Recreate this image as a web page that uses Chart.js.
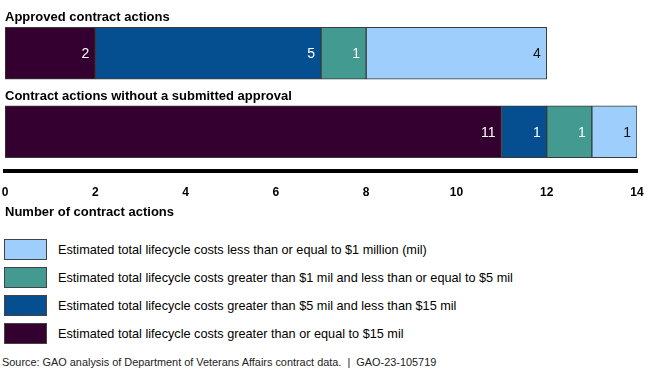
<!DOCTYPE html>
<html>
<head>
<meta charset="utf-8">
<script src="https://cdn.jsdelivr.net/npm/chart.js@4/dist/chart.umd.min.js"></script>
<style>
  body { margin: 0; background: #fff; font-family: Arial, "Liberation Sans", sans-serif; }
  #wrap { position: relative; width: 650px; height: 228px; }
  #legend { position: absolute; left: 4px; top: 239px; }
  .row { display: flex; align-items: center; height: 21px; margin-bottom: 7px; }
  .sw { width: 41px; height: 19px; border: 1px solid #444; margin-right: 11px; }
  .row span { font-size: 12.7px; color: #000; }
  #source { position: absolute; left: 2px; top: 356px; font-size: 10.9px; color: #222; }
</style>
</head>
<body>
<div id="wrap"><canvas id="chart"></canvas></div>
<div id="legend"></div>
<div id="source">Source: GAO analysis of Department of Veterans Affairs contract data.&nbsp; |&nbsp; GAO-23-105719</div>
<script>
const categorias = ['Approved contract actions', 'Contract actions without a submitted approval'];
const series = [
  'Estimated total lifecycle costs greater than or equal to $15 mil',
  'Estimated total lifecycle costs greater than $5 mil and less than $15 mil',
  'Estimated total lifecycle costs greater than $1 mil and less than or equal to $5 mil',
  'Estimated total lifecycle costs less than or equal to $1 million (mil)'
];
const mas15 = [2, 11];
const de5a15 = [5, 1];
const de1a5 = [1, 1];
const hasta1 = [4, 1];
const colores = ['#340030', '#054F90', '#429A91', '#9DCEFC'];
const colorEtiqueta = ['#fff', '#fff', '#fff', '#111'];
const ticksX = [0, 2, 4, 6, 8, 10, 12, 14];

const valores = [mas15, de5a15, de1a5, hasta1];

// titulos de cada barra, encima de la barra
const titulosPlugin = {
  id: 'titulos',
  afterDatasetsDraw(chart) {
    const ctx = chart.ctx;
    const meta = chart.getDatasetMeta(0);
    ctx.save();
    ctx.font = 'bold 13px Arial';
    ctx.fillStyle = '#000';
    ctx.textAlign = 'left';
    ctx.textBaseline = 'alphabetic';
    meta.data.forEach((bar, i) => {
      ctx.fillText(categorias[i], chart.chartArea.left, bar.y - bar.height / 2 - 6);
    });
    ctx.restore();
  }
};

// numeros dentro de cada segmento
const etiquetasPlugin = {
  id: 'etiquetas',
  afterDatasetsDraw(chart) {
    const ctx = chart.ctx;
    ctx.save();
    ctx.font = '14px Arial';
    ctx.textAlign = 'right';
    ctx.textBaseline = 'middle';
    chart.data.datasets.forEach((ds, d) => {
      chart.getDatasetMeta(d).data.forEach((bar, i) => {
        ctx.fillStyle = colorEtiqueta[d];
        ctx.fillText(String(ds.data[i]), bar.x - 6, bar.y + 1);
      });
    });
    ctx.restore();
  }
};

const ctx = document.getElementById('chart').getContext('2d');
new Chart(ctx, {
  type: 'bar',
  data: {
    labels: categorias,
    datasets: series.map((nombre, i) => ({
      label: nombre,
      data: valores[i],
      backgroundColor: colores[i],
      borderColor: '#3a3a3a',
      borderWidth: 1,
      borderSkipped: false,
      barThickness: 52
    }))
  },
  options: {
    indexAxis: 'y',
    responsive: true,
    maintainAspectRatio: false,
    animation: false,
    layout: { padding: { top: 14, left: 5, right: 13, bottom: 8 } },
    plugins: {
      legend: { display: false },
      tooltip: { enabled: false }
    },
    scales: {
      x: {
        stacked: true,
        min: 0,
        max: 14,
        afterBuildTicks: (scale) => { scale.ticks = ticksX.map(v => ({ value: v })); },
        afterFit: (scale) => {
          scale.height = 49;
          scale.paddingLeft = 0;
          scale.paddingRight = 0;
        },
        grid: { display: false, drawTicks: false },
        border: { display: true, color: '#000', width: 4 },
        ticks: {
          color: '#000',
          padding: 14,
          font: { family: 'Arial', size: 12, weight: 'bold' },
          maxRotation: 0,
          autoSkip: false
        },
        title: {
          display: true,
          text: 'Number of contract actions',
          align: 'start',
          color: '#000',
          font: { family: 'Arial', size: 13, weight: 'bold' },
          padding: { top: 5, bottom: 0 }
        }
      },
      y: {
        stacked: true,
        display: false
      }
    }
  },
  plugins: [titulosPlugin, etiquetasPlugin]
});

// leyenda en orden inverso, como en la figura
const leyenda = document.getElementById('legend');
[3, 2, 1, 0].forEach(i => {
  const fila = document.createElement('div');
  fila.className = 'row';
  fila.innerHTML = `<div class="sw" style="background:${colores[i]}"></div><span>${series[i]}</span>`;
  leyenda.appendChild(fila);
});
</script>
</body>
</html>
